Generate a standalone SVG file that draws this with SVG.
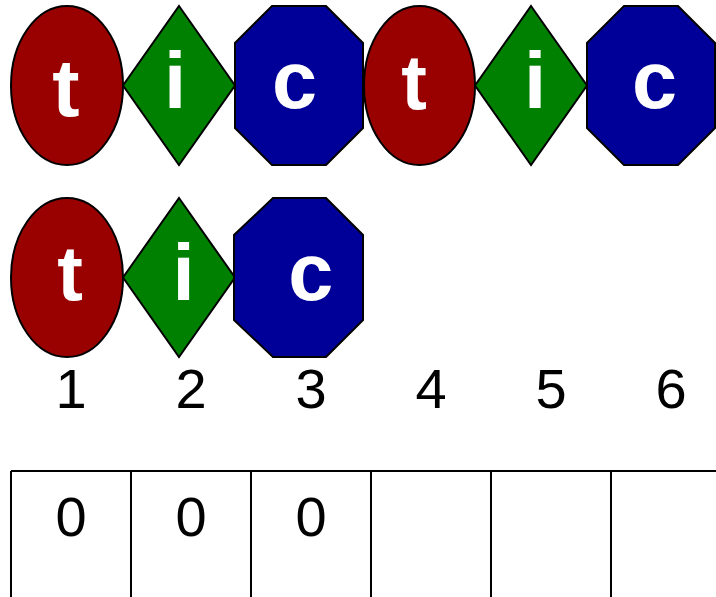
<svg xmlns="http://www.w3.org/2000/svg" width="716" height="597" viewBox="0 0 716 597">
<style>
.sh{stroke:#000;stroke-width:2}
.t{fill:#990000}
.i{fill:#008000}
.c{fill:#000099}
.lbl{font-family:"Liberation Sans",Arial,sans-serif;font-weight:bold;fill:#fff;text-anchor:middle}
.num{font-family:"Liberation Sans",Arial,sans-serif;font-size:56px;fill:#000;text-anchor:middle}
.grid{stroke:#000;stroke-width:2;fill:none}
</style>
<rect width="716" height="597" fill="#fff"/>
<g id="t1"><ellipse class="sh t" cx="67" cy="85.5" rx="56" ry="79.5"/><text class="lbl" x="66" y="116" font-size="82">t</text></g>
<g id="i1"><polygon class="sh i" points="179,6 235,85.5 179,165 123,85.5"/><text class="lbl" x="175" y="108" font-size="80">i</text></g>
<g id="c1"><polygon class="sh c" points="272,6 326,6 363,43 363,128 326,165 272,165 235,128 235,43"/><text class="lbl" x="294.5" y="108" font-size="81">c</text></g>
<g id="t2"><ellipse class="sh t" cx="419.5" cy="85.5" rx="55.5" ry="79.5"/><text class="lbl" x="414" y="108.5" font-size="77">t</text></g>
<g id="i2"><polygon class="sh i" points="531,6 587,85.5 531,165 475,85.5"/><text class="lbl" x="535" y="108" font-size="80">i</text></g>
<g id="c2"><polygon class="sh c" points="624,6 678,6 715,43 715,128 678,165 624,165 587,128 587,43"/><text class="lbl" x="654.5" y="108" font-size="81">c</text></g>
<g id="t3"><ellipse class="sh t" cx="67" cy="277.5" rx="56" ry="79.5"/><text class="lbl" x="70" y="300" font-size="77">t</text></g>
<g id="i3"><polygon class="sh i" points="179,198 235,277.5 179,357 123,277.5"/><text class="lbl" x="183.5" y="300" font-size="80">i</text></g>
<g id="c3"><polygon class="sh c" points="273,198 326,198 363,235 363,320 326,357 273,357 234,320 234,235"/><text class="lbl" x="310.7" y="300" font-size="81">c</text></g>
<g id="indices">
<text class="num" x="71" y="408">1</text>
<text class="num" x="191" y="408">2</text>
<text class="num" x="311" y="408">3</text>
<text class="num" x="431" y="408">4</text>
<text class="num" x="551" y="408">5</text>
<text class="num" x="671" y="408">6</text>
</g>
<g id="table">
<path class="grid" d="M11,471 H716 M11,471 V597 M131,471 V597 M251,471 V597 M371,471 V597 M491,471 V597 M611,471 V597"/>
<text class="num" x="71" y="536">0</text>
<text class="num" x="191" y="536">0</text>
<text class="num" x="311" y="536">0</text>
</g>
<g id="connectors"/>
</svg>
